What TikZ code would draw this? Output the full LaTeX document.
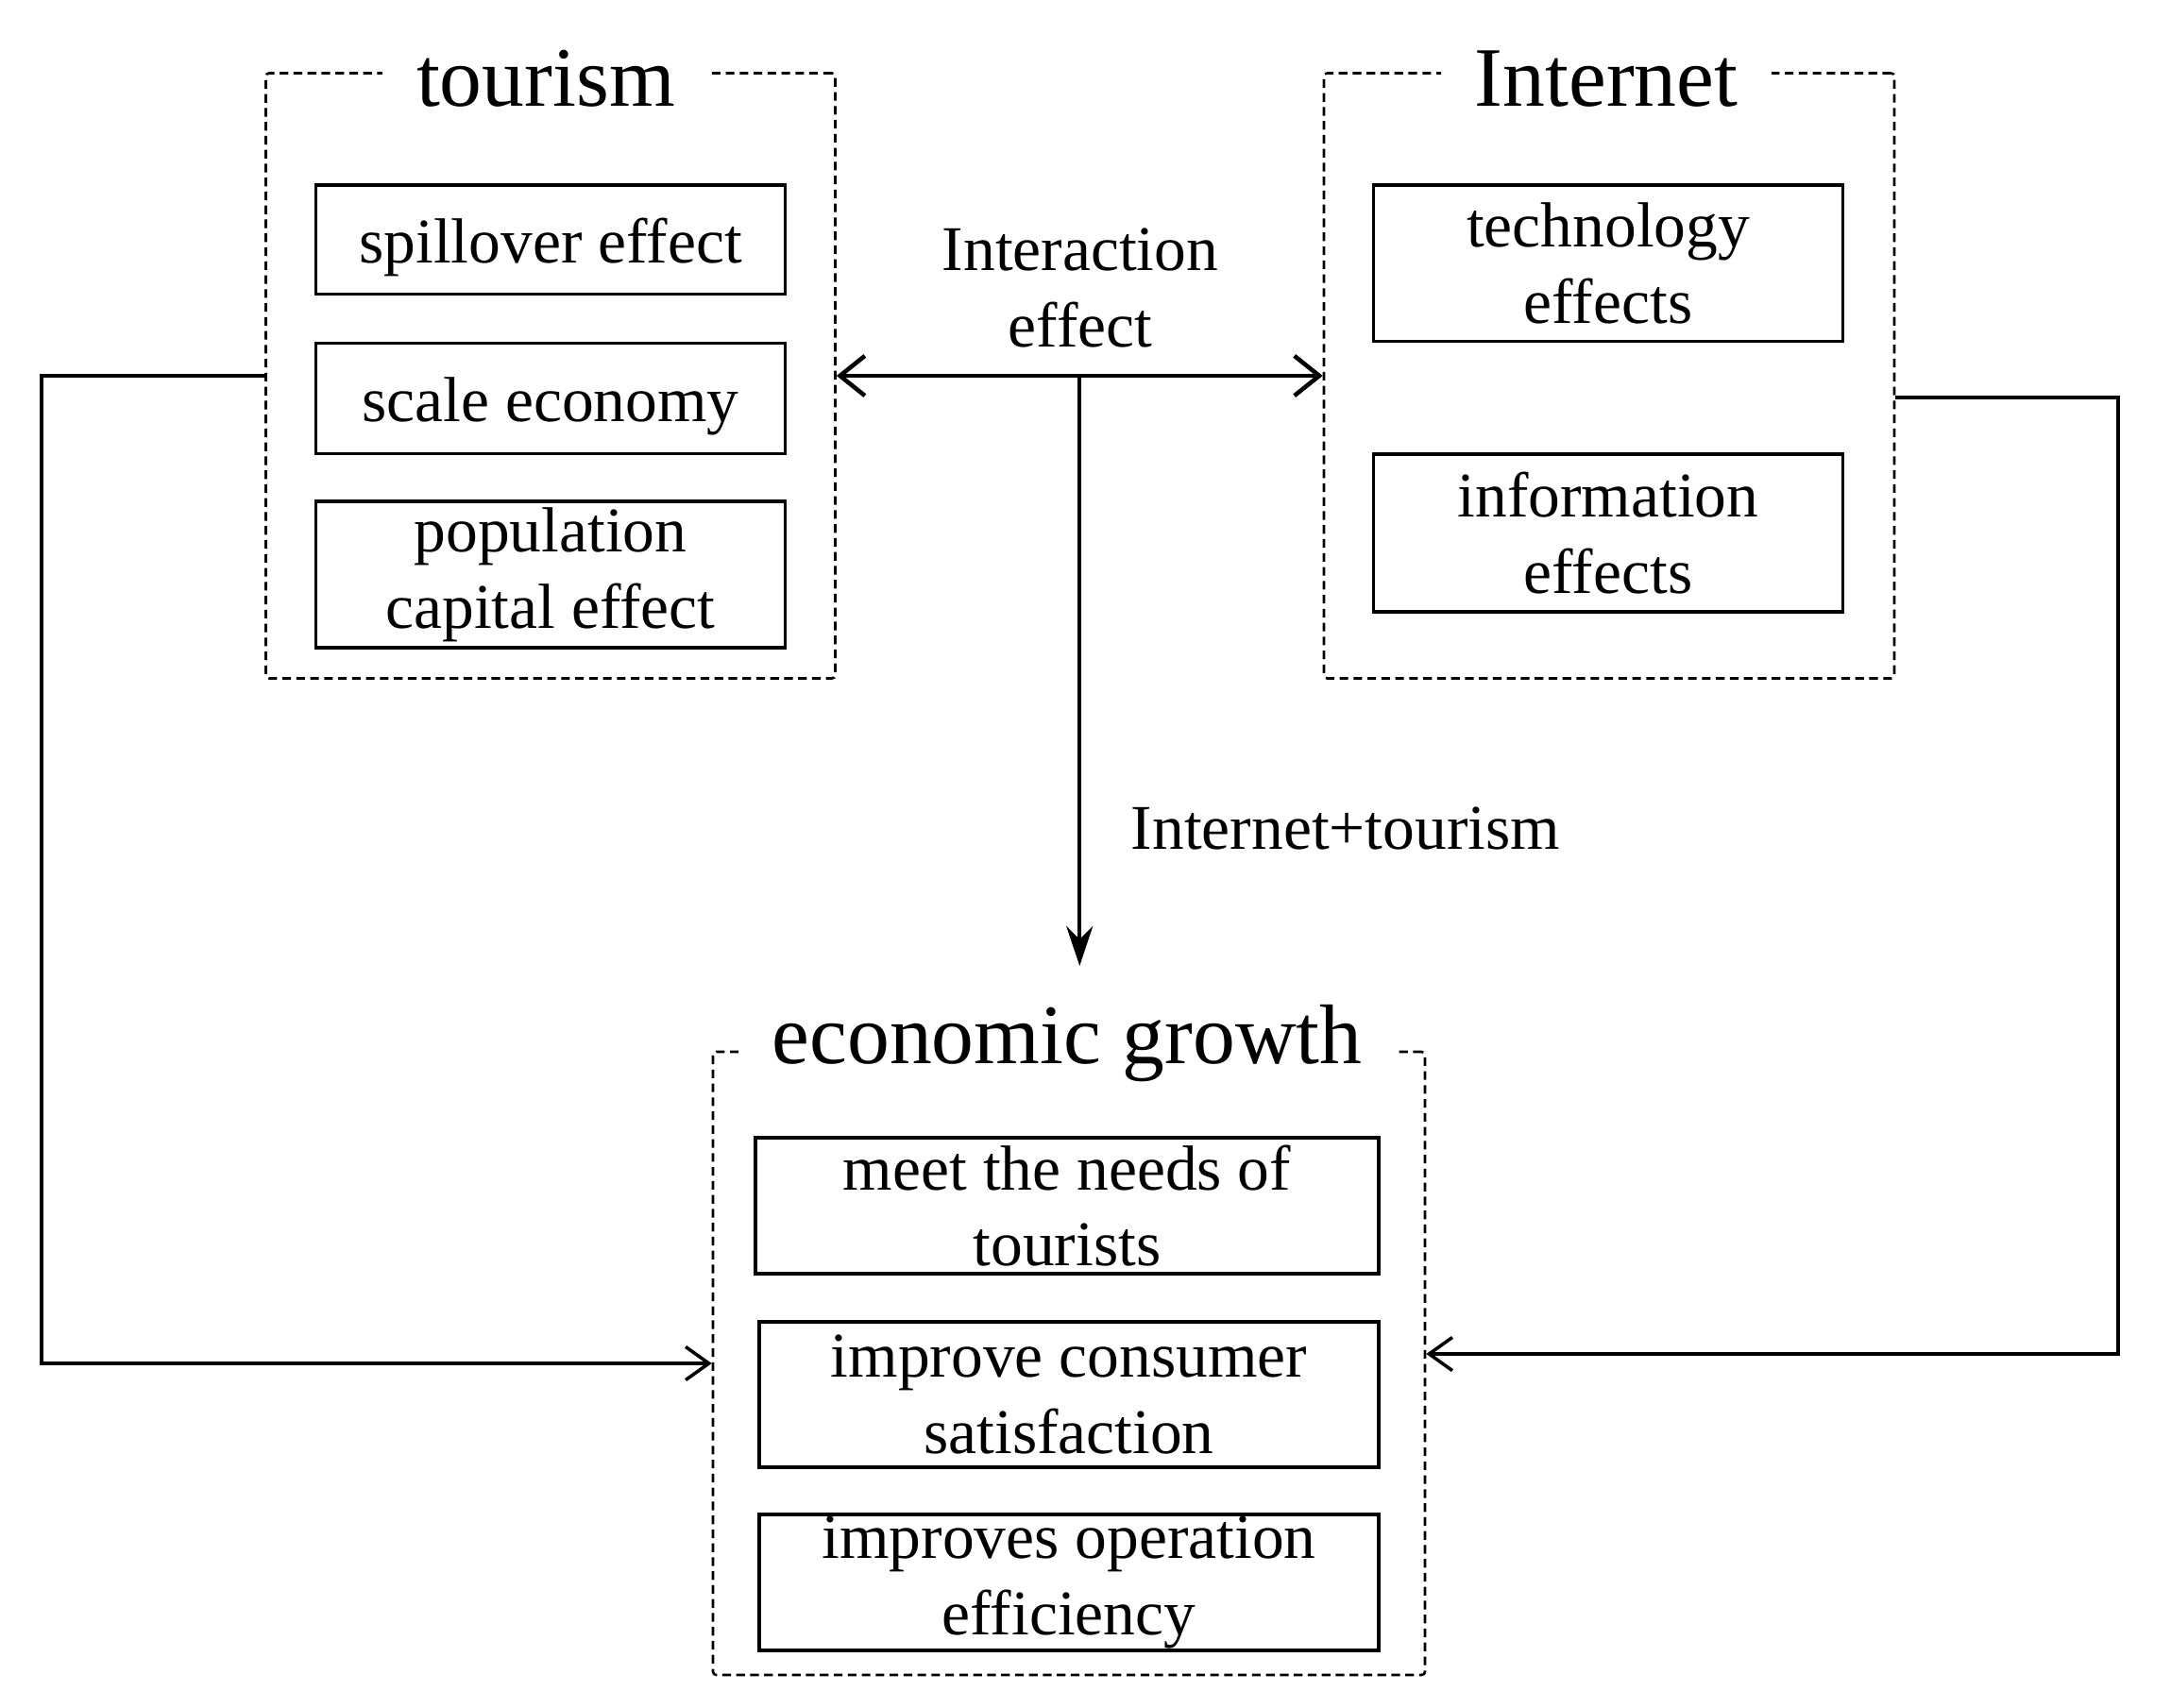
\documentclass[tikz,border=0pt]{standalone}
\usepackage{fontspec}
\setmainfont{Liberation Serif}
\usetikzlibrary{arrows.meta,positioning,calc}

\begin{document}
\begin{tikzpicture}[
    every node/.style={color=black, font=\fontsize{19.2pt}{23pt}\selectfont},
    groupframe/.style={draw, dash pattern=on 2.6pt off 1.6pt, line width=0.75pt,
    rounded corners=1pt, inner sep=0pt},
    grouptitle/.style={fill=white, inner xsep=0.36cm, inner ysep=1pt, anchor=base,
    font=\fontsize{25.5pt}{30pt}\selectfont},
    effectbox/.style={draw, line width=1pt, align=center, inner sep=0pt},
    arrowtext/.style={align=center},
    link/.style={line width=1pt, -{Straight Barb[length=7pt,width=10pt]}},
    interaction/.style={line width=1.3pt,
    {Straight Barb[length=7.5pt,width=12pt]}-{Straight Barb[length=7.5pt,width=12pt]}},
    joint/.style={line width=1.2pt, -{Stealth[length=12pt,width=8pt,inset=4pt]}}
    ]

\useasboundingbox (0,0) rectangle (22.99,-18.08);

\newcommand{\boxWidth}{4.97cm}
\newcommand{\growthWidth}{6.56cm}
\newcommand{\low}{\rule{0pt}{18pt}}

% tourism
\node[groupframe, minimum width=6.03cm, minimum height=6.41cm] (tframe) at (5.83,-3.98) {};
\node[grouptitle] (ttitle) at (5.78,-1.13) {tourism};
\node[effectbox, minimum width=\boxWidth, minimum height=1.155cm] (spill) at (5.83,-2.54)
	{\low spillover effect};
\node[effectbox, minimum width=\boxWidth, minimum height=1.17cm] (scale) at (5.83,-4.22)
	{\low scale economy};
\node[effectbox, minimum width=\boxWidth, minimum height=1.55cm] (pop) at (5.83,-6.085)
	{population\\capital effect};

% Internet
\node[groupframe, minimum width=6.04cm, minimum height=6.41cm] (iframe) at (17.04,-3.98) {};
\node[grouptitle] (ititle) at (17.01,-1.13) {Internet};
\node[effectbox, minimum width=\boxWidth, minimum height=1.655cm] (tech) at (17.03,-2.79)
	{technology\\effects};
\node[effectbox, minimum width=\boxWidth, minimum height=1.67cm] (info) at (17.03,-5.645)
	{information\\effects};

% economic growth
\node[groupframe, minimum width=7.54cm, minimum height=6.60cm] (eframe) at (11.32,-14.44) {};
\node[grouptitle] (etitle) at (11.30,-11.26) {economic growth};
\node[effectbox, minimum width=6.60cm, minimum height=1.44cm] (needs) at (11.30,-12.77)
	{meet the needs of\\tourists};
\node[effectbox, minimum width=\growthWidth, minimum height=1.54cm] (satis) at (11.32,-14.77)
	{improve consumer\\satisfaction};
\node[effectbox, minimum width=\growthWidth, minimum height=1.44cm] (effic) at (11.32,-16.76)
	{improves operation\\efficiency};

% labels
\node[arrowtext] (ielabel) at (11.44,-3.05) {Interaction\\effect};
\node[arrowtext] (itlabel) at (14.25,-8.77) {Internet+tourism};

\coordinate (mid) at ($(tframe.east)!0.5!(iframe.west)$);
\coordinate (gtarget) at (11.39,-10.23);
\coordinate (lft) at (0.44,0);
\coordinate (rgt) at (22.43,0);

% arrows
\draw[interaction] (tframe.east) -- (iframe.west);
\draw[joint] (mid) -- (mid |- gtarget);
\draw[link] (tframe.west) -- (tframe.west -| lft) |- (eframe.west);
\draw[link] ([yshift=-0.23cm]iframe.east) -- ([yshift=-0.23cm]iframe.east -| rgt)
	|- ([yshift=0.1cm]eframe.east);

\end{tikzpicture}
\end{document}
